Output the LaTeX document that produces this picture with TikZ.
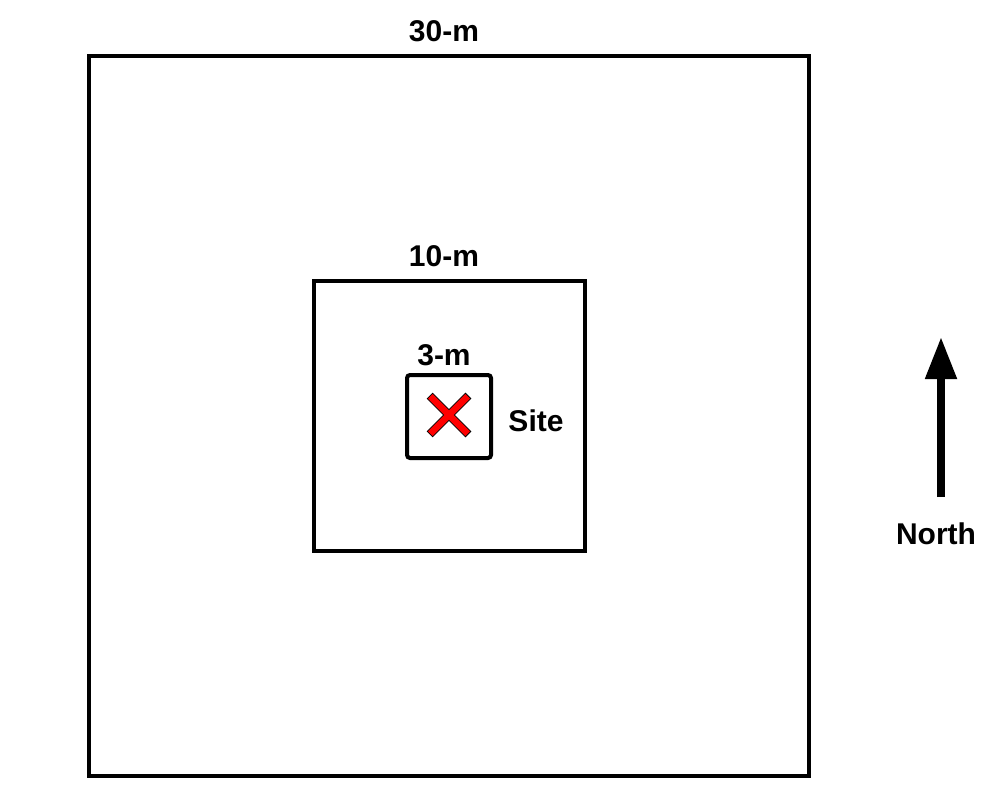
\documentclass[tikz,border=0pt]{standalone}
\usepackage{fontspec}
\setmainfont{Liberation Sans}
\usetikzlibrary{arrows.meta}
\begin{document}
\begin{tikzpicture}[x=1pt,y=-1pt,
  box/.style={draw=black, line width=4pt, inner sep=0pt, outer sep=0pt},
  lbl/.style={font=\fontsize{30}{33}\selectfont\bfseries, inner sep=0pt}]
\useasboundingbox[fill=white] (0,0) rectangle (986,787);
\node[box, minimum width=720pt, minimum height=720pt] (outer) at (449,416) {};
\node[box, minimum width=271pt, minimum height=270pt] (middle) at (449.5,416) {};
\node[box, rounded corners=3pt, minimum width=84pt, minimum height=83pt] (inner) at (449,416.5) {};
\node[lbl] (l30) at (444,31) {30-m};
\node[lbl] (l10) at (444,256) {10-m};
\node[lbl] (l3) at (444,355) {3-m};
\node[lbl] (site) at (536,421) {Site};
\node[lbl] (north) at (936,534) {North};
% red cross
\begin{scope}[shift={(449,415)}, rotate=45]
\def\L{27}\def\W{3.8}
\filldraw[fill=red, draw=black, line width=0.8pt, line join=miter]
  (\W,\W) -- (\L,\W) -- (\L,-\W) -- (\W,-\W) -- (\W,-\L) -- (-\W,-\L) -- (-\W,-\W)
  -- (-\L,-\W) -- (-\L,\W) -- (-\W,\W) -- (-\W,\L) -- (\W,\L) -- cycle;
\end{scope}
% north arrow
\coordinate (ntail) at (941,497);
\coordinate (nhead) at (941,337);
\draw[line width=8pt, -{Triangle[width=30pt,length=42pt]}] (ntail) -- (nhead);
\end{tikzpicture}
\end{document}
